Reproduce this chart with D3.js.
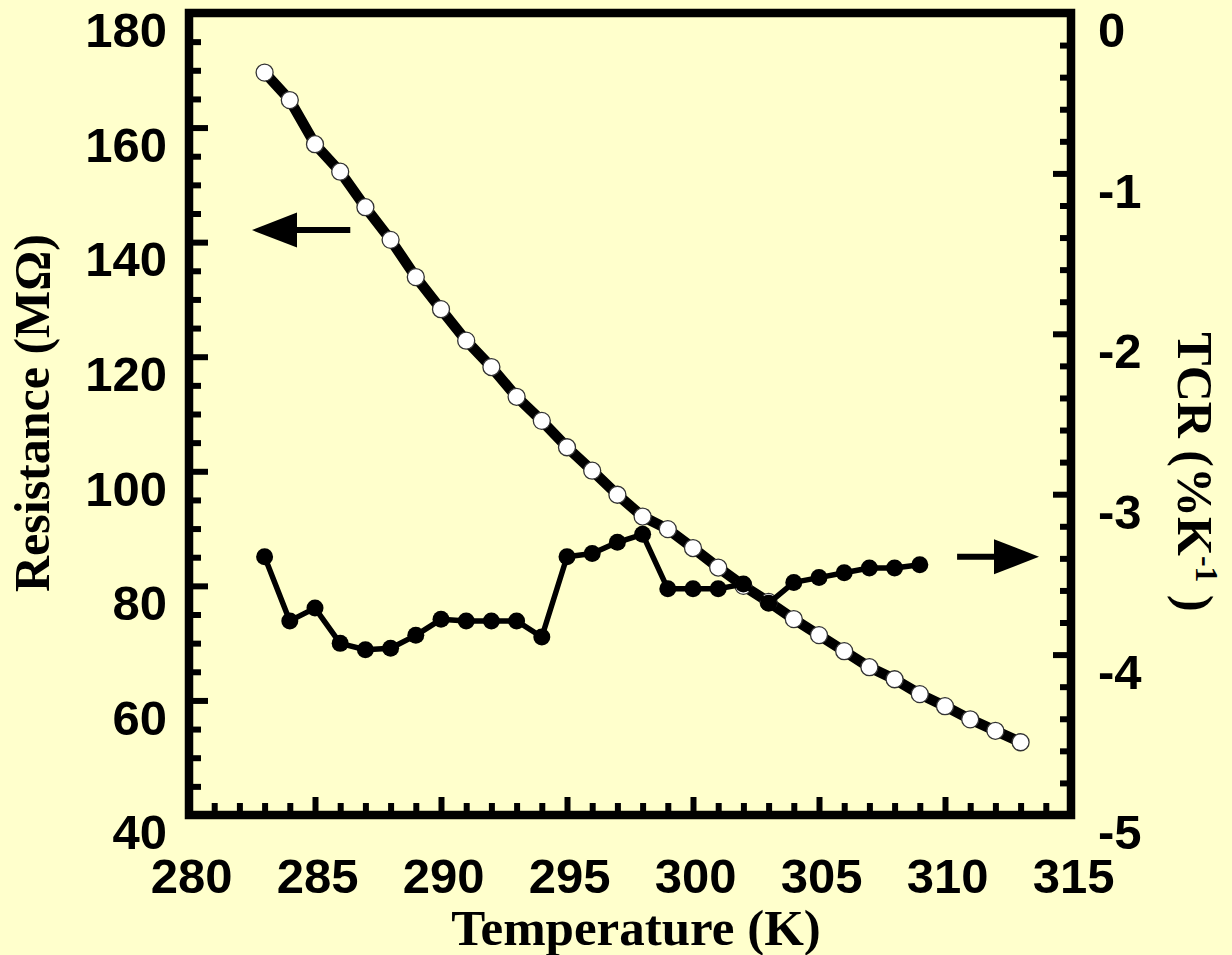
<!DOCTYPE html>
<html>
<head>
<meta charset="utf-8">
<script src="https://cdn.jsdelivr.net/npm/d3@7"></script>
<style>
  html, body { margin: 0; padding: 0; background: #ffffcc; }
  svg { display: block; }
</style>
</head>
<body>
<script>
// Temperature steps (K)
const tempR = d3.range(283, 314);          // 283 … 313
const tempTCR = d3.range(283, 310);        // 283 … 309

// Resistance (MΩ) at each temperature
const resistance = [
  169.6, 164.8, 157.1, 152.3, 146.1, 140.4, 133.9, 128.3, 122.8, 118.2,
  113.0, 108.8, 104.2, 100.1, 95.9, 92.1, 89.9, 86.6, 83.2, 80.0,
  77.2, 74.2, 71.4, 68.6, 65.8, 63.7, 61.1, 59.0, 56.7, 54.7, 52.7
];

// Temperature coefficient of resistance (%/K)
const tcr = [
  -3.39, -3.79, -3.71, -3.93, -3.97, -3.96, -3.88, -3.78, -3.79, -3.79,
  -3.79, -3.89, -3.39, -3.37, -3.30, -3.25, -3.59, -3.59, -3.59, -3.56,
  -3.68, -3.55, -3.52, -3.49, -3.46, -3.46, -3.44
];

// Axis ticks
const xMajorTicks = [280, 285, 290, 295, 300, 305, 310, 315];
const xMinorTicks = d3.range(281, 315).filter(t => t % 5 !== 0);
const rMajorTicks = [40, 60, 80, 100, 120, 140, 160, 180];
const rMinorTicks = d3.range(45, 180, 5).filter(t => t % 20 !== 0);
const tcrMajorTicks = [-5, -4, -3, -2, -1, 0];
const tcrMinorTicks = d3.range(-48, 0, 2).filter(t => t % 10 !== 0).map(t => t / 10);

// Direction arrows (data units: [temperature, value])
const arrowLeft = { from: [286.4, 142.1], to: [282.5, 142.1] };   // points to resistance axis
const arrowRight = { from: [310.48, -3.39], to: [313.73, -3.39] }; // points to TCR axis

const W = 1232, H = 955;
const plot = { left: 189, right: 1071, top: 13, bottom: 815 };

const x = d3.scaleLinear().domain([280, 315]).range([plot.left, plot.right]);
const yR = d3.scaleLinear().domain([40, 180]).range([plot.bottom, plot.top]);
const yT = d3.scaleLinear().domain([-5, 0]).range([plot.bottom, plot.top]);

const svg = d3.select("body").append("svg")
  .attr("width", W).attr("height", H);

svg.append("rect").attr("width", W).attr("height", H).attr("fill", "#ffffcc");

const tickFont = "'Liberation Sans', Arial, sans-serif";
const titleFont = "'Liberation Serif', 'Times New Roman', serif";

function styleAxis(g) {
  g.select(".domain").remove();
  g.selectAll(".tick line").attr("stroke", "#000").attr("stroke-width", 6);
  g.selectAll(".tick text")
    .attr("font-family", tickFont)
    .attr("font-weight", "bold")
    .attr("font-size", 49)
    .attr("fill", "#000");
}

// Bottom axis
svg.append("g").attr("transform", `translate(0,${plot.bottom})`)
  .call(d3.axisBottom(x).tickValues(xMinorTicks).tickSize(-12).tickFormat(""))
  .call(styleAxis);
svg.append("g").attr("transform", `translate(0,${plot.bottom})`)
  .call(d3.axisBottom(x).tickValues(xMajorTicks).tickSize(-18).tickPadding(43)
    .tickFormat(d => String(d)))
  .call(styleAxis)
  .selectAll(".tick text").attr("dx", 2);

// Left axis (resistance)
svg.append("g").attr("transform", `translate(${plot.left},0)`)
  .call(d3.axisLeft(yR).tickValues(rMinorTicks).tickSize(-12).tickFormat(""))
  .call(styleAxis);
svg.append("g").attr("transform", `translate(${plot.left},0)`)
  .call(d3.axisLeft(yR).tickValues(rMajorTicks).tickSize(-19).tickPadding(22)
    .tickFormat(d => String(d)))
  .call(styleAxis)
  .selectAll(".tick text").attr("dy", "0.69em");

// Right axis (TCR)
svg.append("g").attr("transform", `translate(${plot.right},0)`)
  .call(d3.axisRight(yT).tickValues(tcrMinorTicks).tickSize(-11).tickFormat(""))
  .call(styleAxis);
svg.append("g").attr("transform", `translate(${plot.right},0)`)
  .call(d3.axisRight(yT).tickValues(tcrMajorTicks).tickSize(-18).tickPadding(27)
    .tickFormat(d => String(d)))
  .call(styleAxis)
  .selectAll(".tick text").attr("dy", "0.69em");

// Frame
svg.append("rect")
  .attr("x", plot.left).attr("y", plot.top)
  .attr("width", plot.right - plot.left).attr("height", plot.bottom - plot.top)
  .attr("fill", "none").attr("stroke", "#000").attr("stroke-width", 8.5);

// Resistance curve
const rData = tempR.map((t, i) => ({ t, v: resistance[i] }));
svg.append("path").datum(rData)
  .attr("fill", "none").attr("stroke", "#000").attr("stroke-width", 10.5)
  .attr("stroke-linejoin", "round").attr("stroke-linecap", "round")
  .attr("d", d3.line().x(d => x(d.t)).y(d => yR(d.v)));
svg.append("g").selectAll("circle").data(rData).join("circle")
  .attr("cx", d => x(d.t)).attr("cy", d => yR(d.v)).attr("r", 8.5)
  .attr("fill", "#fff").attr("stroke", "#333").attr("stroke-width", 1.3);

// TCR curve
const tData = tempTCR.map((t, i) => ({ t, v: tcr[i] }));
svg.append("path").datum(tData)
  .attr("fill", "none").attr("stroke", "#000").attr("stroke-width", 5.5)
  .attr("stroke-linejoin", "round")
  .attr("d", d3.line().x(d => x(d.t)).y(d => yT(d.v)));
svg.append("g").selectAll("circle").data(tData).join("circle")
  .attr("cx", d => x(d.t)).attr("cy", d => yT(d.v)).attr("r", 8.5)
  .attr("fill", "#000");

// Arrows
function drawArrow(a, yScale) {
  const x0 = x(a.from[0]), y0 = yScale(a.from[1]);
  const x1 = x(a.to[0]), y1 = yScale(a.to[1]);
  const dir = Math.sign(x1 - x0);
  const headLen = 45, headHalf = 17.5;
  const xb = x1 - dir * headLen;
  svg.append("line")
    .attr("x1", x0).attr("y1", y0).attr("x2", xb).attr("y2", y1)
    .attr("stroke", "#000").attr("stroke-width", 6);
  svg.append("path")
    .attr("d", `M${x1},${y1}L${xb},${y1 - headHalf}L${xb},${y1 + headHalf}Z`)
    .attr("fill", "#000");
}
drawArrow(arrowLeft, yR);
drawArrow(arrowRight, yT);

// Axis titles
svg.append("text")
  .attr("x", 636).attr("y", 945)
  .attr("text-anchor", "middle")
  .attr("font-family", titleFont).attr("font-weight", "bold").attr("font-size", 51)
  .text("Temperature (K)");

svg.append("text")
  .attr("transform", "translate(49,413) rotate(-90)")
  .attr("text-anchor", "middle")
  .attr("font-family", titleFont).attr("font-weight", "bold").attr("font-size", 50)
  .text("Resistance (MΩ)");

const tcrTitle = svg.append("text")
  .attr("transform", "translate(1178,472) rotate(90)")
  .attr("text-anchor", "middle")
  .attr("font-family", titleFont).attr("font-weight", "bold").attr("font-size", 50);
tcrTitle.append("tspan").text("TCR (%K");
tcrTitle.append("tspan").attr("dy", -18).attr("font-size", 32).text("-1");
tcrTitle.append("tspan").attr("dy", 18).text(" )");
</script>
</body>
</html>
